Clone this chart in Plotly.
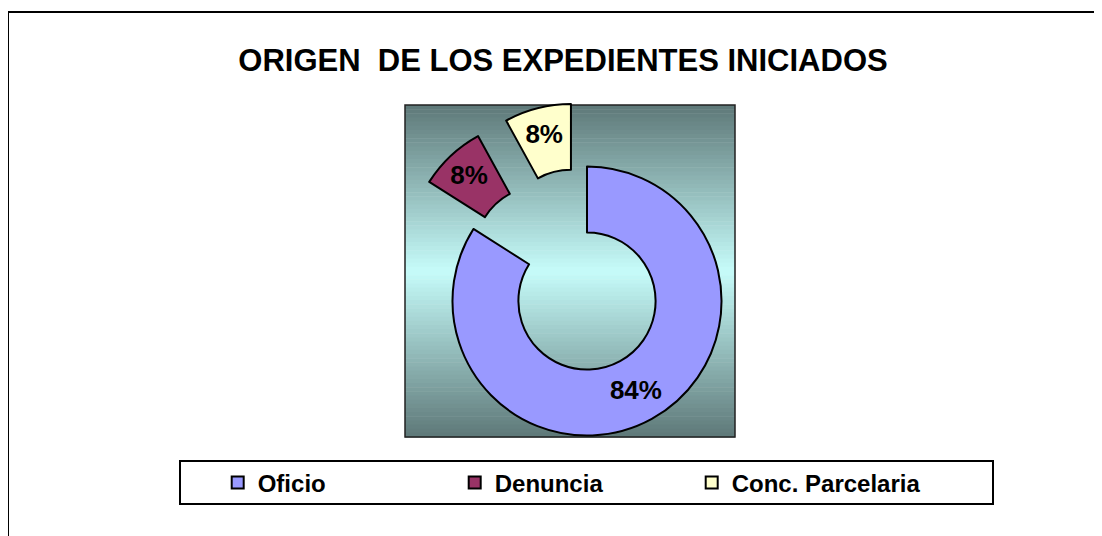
import plotly.graph_objects as go

# ---- data ----
categories = ["Oficio", "Denuncia", "Conc. Parcelaria"]
values = [84, 8, 8]
colors = ["#9999FF", "#993366", "#FFFFCC"]
pulls = [0, 0.48, 0.48]
title_text = "ORIGEN&nbsp; DE LOS EXPEDIENTES INICIADOS"

W, H = 1102, 536
FONT = "Liberation Sans, Arial, sans-serif"
OFF = 8  # page body margin


def px(x):
    return (x - OFF) / W


def py(y):
    return 1 - (y - OFF) / H


shapes = []
# outer chart border (top and left visible)
shapes.append(dict(type="line", xref="paper", yref="paper", x0=px(8), x1=px(W + 20),
                   y0=py(12), y1=py(12), line=dict(color="black", width=2), layer="below"))
shapes.append(dict(type="line", xref="paper", yref="paper", x0=px(8), x1=px(8),
                   y0=py(12), y1=py(H + 20), line=dict(color="black", width=2), layer="below"))

# plot area gradient background
pa_l, pa_r, pa_t, pa_b = 405, 735, 105, 437
edge = (94, 120, 120)
mid = (198, 252, 250)
n = 80
for i in range(n):
    y0 = pa_t + (pa_b - pa_t) * i / n
    y1 = pa_t + (pa_b - pa_t) * (i + 1) / n
    yc = (y0 + y1) / 2
    f = abs(yc - (pa_t + pa_b) / 2) / ((pa_b - pa_t) / 2)
    c = tuple(int(round(m + (e - m) * f)) for m, e in zip(mid, edge))
    shapes.append(dict(type="rect", xref="paper", yref="paper",
                       x0=px(pa_l), x1=px(pa_r), y0=py(y0), y1=py(y1 + 0.5),
                       fillcolor="rgb(%d,%d,%d)" % c, line=dict(width=0), layer="below"))
shapes.append(dict(type="rect", xref="paper", yref="paper",
                   x0=px(pa_l), x1=px(pa_r), y0=py(pa_t), y1=py(pa_b),
                   line=dict(color="#222222", width=1.5), layer="below"))

# legend box
shapes.append(dict(type="rect", xref="paper", yref="paper",
                   x0=px(180), x1=px(993), y0=py(461), y1=py(504),
                   fillcolor="white", line=dict(color="black", width=2), layer="below"))

# pie geometry: centre (587,301), radius ~134.5 with pull 0.48
cx, cy = 587, 301
half = 134.5 * (1 + max(pulls))

fig = go.Figure(go.Pie(
    labels=categories,
    values=values,
    marker=dict(colors=colors, line=dict(color="black", width=2)),
    pull=pulls,
    hole=0.51,
    sort=False,
    direction="clockwise",
    rotation=0,
    textinfo="percent",
    textposition="inside",
    insidetextorientation="horizontal",
    textfont=dict(family=FONT, size=26, color="black", weight="bold"),
    domain=dict(x=[px(cx - half), px(cx + half)], y=[py(cy + half), py(cy - half)]),
))

fig.update_layout(
    width=W, height=H,
    margin=dict(l=0, r=0, t=0, b=0),
    paper_bgcolor="white",
    plot_bgcolor="white",
    title=dict(text=title_text, x=px(563), xanchor="center", xref="container",
               y=py(60), yanchor="middle", yref="container",
               font=dict(family=FONT, size=31, color="black", weight="bold")),
    legend=dict(orientation="h", x=px(217.7), xanchor="left", y=py(483), yanchor="middle",
                bgcolor="rgba(0,0,0,0)", borderwidth=0,
                entrywidth=192, entrywidthmode="pixels",
                font=dict(family=FONT, size=24, color="black", weight="bold")),
    shapes=shapes,
    showlegend=True,
)

fig.write_html("out.html")
